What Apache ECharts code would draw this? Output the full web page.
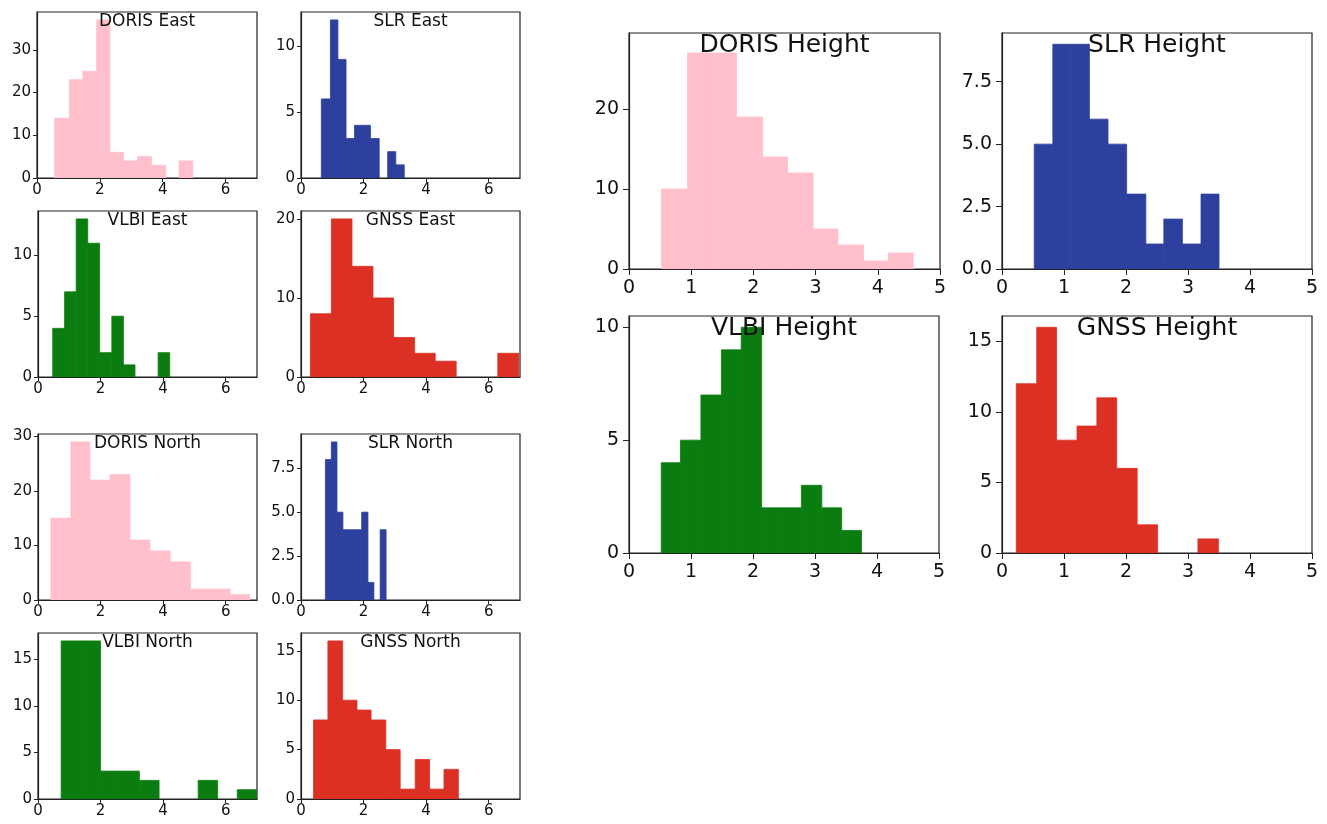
<!DOCTYPE html>
<html>
<head>
<meta charset="utf-8">
<script src="https://cdn.jsdelivr.net/npm/echarts@6/dist/echarts.min.js"></script>
<style>
  html, body { margin: 0; padding: 0; background: #fff; }
  #chart { width: 1327px; height: 824px; }
</style>
</head>
<body>
<div id="chart"></div>
<script>
// tick labels
const xTicksSmall = [0, 2, 4, 6];
const xTicksLarge = [0, 1, 2, 3, 4, 5];

// histogram bin edges and counts
const dorisEastEdges = [0.56, 1.03, 1.46, 1.90, 2.32, 2.75, 3.20, 3.64, 4.10, 4.52, 4.96];
const dorisEastCounts = [14, 23, 25, 37, 6, 4, 5, 3, 0, 4];

const slrEastEdges = [0.65, 0.94, 1.18, 1.44, 1.71, 1.97, 2.22, 2.50, 2.77, 3.03, 3.30];
const slrEastCounts = [6, 12, 9, 3, 4, 4, 3, 0, 2, 1];

const vlbiEastEdges = [0.47, 0.85, 1.22, 1.59, 1.97, 2.36, 2.73, 3.10, 3.47, 3.84, 4.21];
const vlbiEastCounts = [4, 7, 13, 11, 2, 5, 1, 0, 0, 2];

const gnssEastEdges = [0.30, 0.97, 1.63, 2.30, 2.96, 3.63, 4.29, 4.96, 5.62, 6.29, 6.96];
const gnssEastCounts = [8, 20, 14, 10, 5, 3, 2, 0, 0, 3];

const dorisNorthEdges = [0.41, 1.05, 1.66, 2.30, 2.94, 3.58, 4.23, 4.87, 5.50, 6.14, 6.77];
const dorisNorthCounts = [15, 29, 22, 23, 11, 9, 7, 2, 2, 1];

const slrNorthEdges = [0.78, 0.97, 1.15, 1.34, 1.54, 1.74, 1.94, 2.14, 2.33, 2.53, 2.72];
const slrNorthCounts = [8, 9, 5, 4, 4, 4, 5, 1, 0, 4];

const vlbiNorthEdges = [0.74, 1.36, 2.00, 2.62, 3.24, 3.87, 4.49, 5.12, 5.74, 6.37, 6.99];
const vlbiNorthCounts = [17, 17, 3, 3, 2, 0, 0, 2, 0, 1];

const gnssNorthEdges = [0.40, 0.86, 1.33, 1.79, 2.24, 2.71, 3.17, 3.65, 4.11, 4.57, 5.03];
const gnssNorthCounts = [8, 16, 10, 9, 8, 5, 1, 4, 1, 3];

const dorisHeightEdges = [0.52, 0.94, 1.34, 1.73, 2.15, 2.55, 2.96, 3.36, 3.77, 4.17, 4.57];
const dorisHeightCounts = [10, 27, 27, 19, 14, 12, 5, 3, 1, 2];

const slrHeightEdges = [0.52, 0.82, 1.11, 1.41, 1.71, 2.01, 2.32, 2.61, 2.91, 3.21, 3.50];
const slrHeightCounts = [5, 9, 9, 6, 5, 3, 1, 2, 1, 3];

const vlbiHeightEdges = [0.52, 0.83, 1.16, 1.49, 1.81, 2.14, 2.46, 2.78, 3.11, 3.43, 3.75];
const vlbiHeightCounts = [4, 5, 7, 9, 10, 2, 2, 3, 2, 1];

const gnssHeightEdges = [0.23, 0.56, 0.88, 1.21, 1.53, 1.85, 2.18, 2.51, 2.84, 3.16, 3.49];
const gnssHeightCounts = [12, 16, 8, 9, 11, 6, 2, 0, 0, 1];

const PINK = '#ffc0cb', BLUE = '#2d409d', GREEN = '#0b7d10', RED = '#dc3024';

// panel table: title, data, colour, y ticks, axis limits, box
const panels = [
  { name: 'DORIS East', edges: dorisEastEdges, counts: dorisEastCounts, color: PINK, yTicks: [0, 10, 20, 30], yMax: 38.85, xMax: 7, box: [37, 12, 220, 166] },
  { name: 'SLR East', edges: slrEastEdges, counts: slrEastCounts, color: BLUE, yTicks: [0, 5, 10], yMax: 12.6, xMax: 7, box: [301, 12, 219, 166] },
  { name: 'VLBI East', edges: vlbiEastEdges, counts: vlbiEastCounts, color: GREEN, yTicks: [0, 5, 10], yMax: 13.65, xMax: 7, box: [38, 211, 219, 166] },
  { name: 'GNSS East', edges: gnssEastEdges, counts: gnssEastCounts, color: RED, yTicks: [0, 10, 20], yMax: 21, xMax: 7, box: [301, 211, 219, 166] },
  { name: 'DORIS North', edges: dorisNorthEdges, counts: dorisNorthCounts, color: PINK, yTicks: [0, 10, 20, 30], yMax: 30.45, xMax: 7, box: [38, 434, 219, 166] },
  { name: 'SLR North', edges: slrNorthEdges, counts: slrNorthCounts, color: BLUE, yTicks: [0, 2.5, 5, 7.5], dec: 1, yMax: 9.45, xMax: 7, box: [301, 434, 219, 166] },
  { name: 'VLBI North', edges: vlbiNorthEdges, counts: vlbiNorthCounts, color: GREEN, yTicks: [0, 5, 10, 15], yMax: 17.85, xMax: 7, box: [38, 633, 219, 166] },
  { name: 'GNSS North', edges: gnssNorthEdges, counts: gnssNorthCounts, color: RED, yTicks: [0, 5, 10, 15], yMax: 16.8, xMax: 7, box: [301, 633, 219, 166] },
  { name: 'DORIS Height', edges: dorisHeightEdges, counts: dorisHeightCounts, color: PINK, yTicks: [0, 10, 20], yMax: 29.5, xMax: 5, big: true, box: [629, 33, 311, 236] },
  { name: 'SLR Height', edges: slrHeightEdges, counts: slrHeightCounts, color: BLUE, yTicks: [0, 2.5, 5, 7.5], dec: 1, yMax: 9.45, xMax: 5, big: true, box: [1002, 33, 310, 236] },
  { name: 'VLBI Height', edges: vlbiHeightEdges, counts: vlbiHeightCounts, color: GREEN, yTicks: [0, 5, 10], yMax: 10.5, xMax: 5, big: true, box: [629, 316, 310, 237] },
  { name: 'GNSS Height', edges: gnssHeightEdges, counts: gnssHeightCounts, color: RED, yTicks: [0, 5, 10, 15], yMax: 16.8, xMax: 5, big: true, box: [1002, 316, 310, 237] }
];

const chart = echarts.init(document.getElementById('chart'));
const FONT = 'DejaVu Sans';
const AXIS = '#222';

const option = {
  animation: false,
  backgroundColor: '#fff',
  title: [],
  grid: [],
  xAxis: [],
  yAxis: [],
  series: []
};

panels.forEach((p, i) => {
  const [left, top, width, height] = p.box;
  const labelSize = p.big ? 19 : 15;
  const tickLen = p.big ? 6 : 4;

  option.grid.push({
    left: left, top: top, width: width, height: height,
    show: true, borderColor: AXIS, borderWidth: 1.2
  });

  option.title.push({
    text: p.name,
    left: left + width / 2,
    top: p.big ? top : top + 1,
    textAlign: 'center',
    padding: 0,
    textStyle: { fontFamily: FONT, fontWeight: 'normal', fontSize: p.big ? 25 : 17, color: '#111' }
  });

  const xTicks = p.big ? xTicksLarge : xTicksSmall;
  option.xAxis.push({
    gridIndex: i, type: 'value', min: 0, max: p.xMax,
    axisLine: { show: true, lineStyle: { color: AXIS, width: 1.2 } },
    axisTick: { show: true, length: tickLen, lineStyle: { color: AXIS }, customValues: xTicks },
    axisLabel: { customValues: xTicks, fontFamily: FONT, fontSize: labelSize, color: '#111', margin: p.big ? 10 : 5 },
    splitLine: { show: false }
  });

  option.yAxis.push({
    gridIndex: i, type: 'value', min: 0, max: p.yMax,
    axisLine: { show: true, lineStyle: { color: AXIS, width: 1.2 } },
    axisTick: { show: true, length: tickLen, lineStyle: { color: AXIS }, customValues: p.yTicks },
    axisLabel: {
      customValues: p.yTicks, fontFamily: FONT, fontSize: labelSize, color: '#111', margin: p.big ? 10 : 6,
      formatter: v => p.dec ? v.toFixed(p.dec) : String(v)
    },
    splitLine: { show: false }
  });

  const data = p.counts.map((c, k) => [p.edges[k], p.edges[k + 1], c]);
  option.series.push({
    type: 'custom',
    xAxisIndex: i, yAxisIndex: i,
    clip: true,
    silent: true,
    encode: { x: [0, 1], y: 2 },
    data: data,
    renderItem: function (params, api) {
      if (!api.value(2)) return null;
      const a = api.coord([api.value(0), 0]);
      const b = api.coord([api.value(1), api.value(2)]);
      return {
        type: 'rect',
        shape: { x: a[0], y: b[1], width: b[0] - a[0], height: a[1] - b[1] },
        style: { fill: p.color, stroke: p.color, lineWidth: 0.8 }
      };
    },
    z: 1
  });
});

chart.setOption(option);
</script>
</body>
</html>
